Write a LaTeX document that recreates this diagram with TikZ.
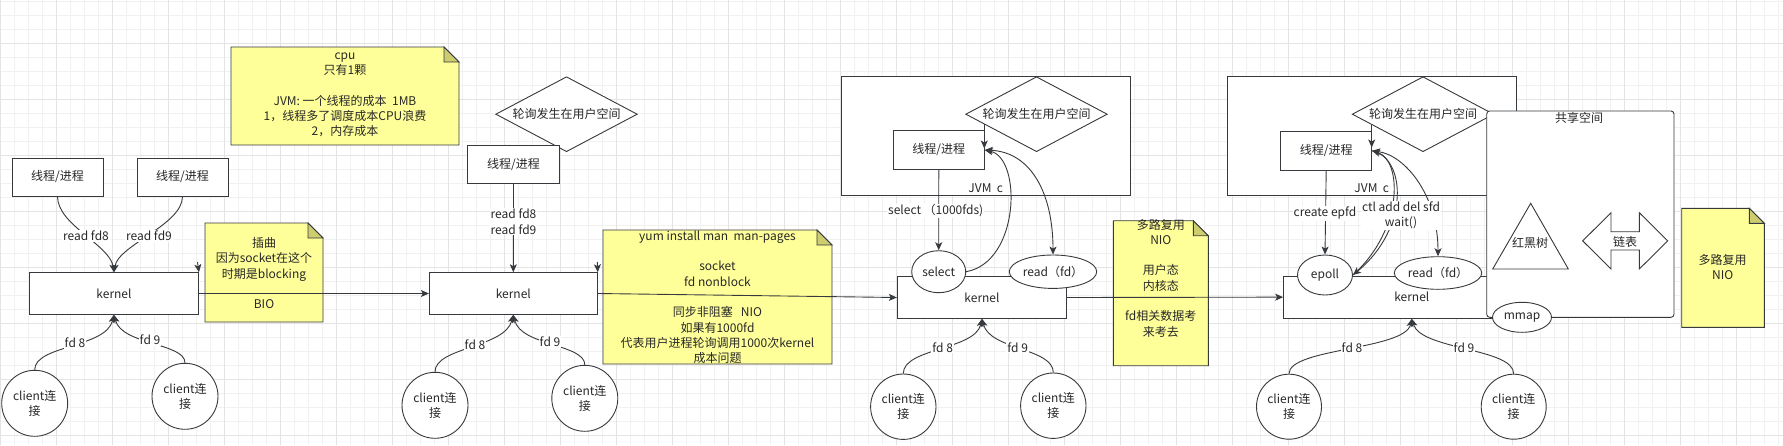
\documentclass[tikz,border=0pt]{standalone}
\usepackage{fontspec}
\setmainfont{Noto Sans CJK SC}
\usetikzlibrary{shapes.geometric,arrows.meta}
\definecolor{gridminor}{RGB}{241,241,241}
\definecolor{gridmajor}{RGB}{228,228,228}
\definecolor{notey}{RGB}{255,255,153}
\definecolor{notefold}{RGB}{205,205,112}
\definecolor{ink}{RGB}{54,57,61}
\definecolor{txt}{RGB}{40,40,40}
\newcommand\foldnote[5]{%
  \filldraw[fill=notey,draw=ink,line width=0.9pt] (#2,#3) -- ({#4-15},#3) -- (#4,{#3+15}) -- (#4,#5) -- (#2,#5) -- cycle;
  \filldraw[fill=notefold,draw=ink,line width=0.9pt] ({#4-15},#3) -- ({#4-15},{#3+15}) -- (#4,{#3+15}) -- cycle;
  \coordinate (#1) at ({(#2+#4)/2},{(#3+#5)/2});
}
\begin{document}
\begin{tikzpicture}[x=1pt,y=-1pt,
  every node/.style={font=\fontsize{12}{15.3}\selectfont, text=txt},
  box/.style={rectangle, draw=ink, fill=white, inner sep=0pt, line width=0.9pt},
  ell/.style={ellipse, draw=ink, fill=white, inner sep=0pt, line width=0.9pt},
  circ/.style={circle, draw=ink, fill=white, inner sep=0pt, minimum size=66pt, align=center, line width=0.9pt},
  dia/.style={diamond, aspect=1.9, draw=ink, fill=white, inner sep=0pt, minimum width=141.6pt, minimum height=75pt, line width=0.9pt},
  conn/.style={draw=ink, line width=0.9pt, -{Stealth[length=8pt,width=7pt,inset=2pt]}},
  biconn/.style={draw=ink, line width=0.9pt, {Stealth[length=8pt,width=7pt,inset=2pt]}-{Stealth[length=8pt,width=7pt,inset=2pt]}},
  lbl/.style={fill=white, inner sep=1pt, align=center},
  notetext/.style={align=center, inner sep=0pt}
]
\useasboundingbox (0,0) rectangle (1783,445);
\fill[white] (0,0) rectangle (1783,445);
% grid
\foreach \i in {0,...,127} \draw[gridminor, line width=0.8pt] ({0.7+14*\i},0) -- ({0.7+14*\i},445);
\foreach \i in {0,...,31} \draw[gridminor, line width=0.8pt] (0,{1+14*\i}) -- (1783,{1+14*\i});
\foreach \i in {0,...,31} \draw[gridmajor, line width=0.8pt] ({0.7+56*\i},0) -- ({0.7+56*\i},445);
\foreach \i in {0,...,7} \draw[gridmajor, line width=0.8pt] (0,{43+56*\i}) -- (1783,{43+56*\i});

% notes
\foldnote{n1}{231}{47}{459}{145}
\foldnote{n2}{205}{223}{323}{322}
\foldnote{n3}{603}{230}{832}{364}
\foldnote{n4}{1113.3}{220.7}{1208.3}{365.7}
\foldnote{n5}{1681.7}{208.3}{1764.3}{327.3}
\node[notetext] (n1t) at (345,95) {cpu\\只有1颗\\[15.3pt]JVM: 一个线程的成本~~1MB\\1，线程多了调度成本CPU浪费\\2，内存成本};
\node[notetext] (n2t) at (264,273.2) {插曲\\因为socket在这个\\时期是blocking\\[15.3pt]BIO};
\node[notetext] (n3t) at (717.5,297.3) {yum install man~~man-pages\\[15.3pt]socket\\fd nonblock\\[15.3pt]同步非阻塞~~~NIO\\如果有1000fd\\代表用户进程轮询调用1000次kernel\\成本问题};
\node[notetext] (n4t) at (1160.8,278) {多路复用\\NIO\\[15.3pt]用户态\\内核态\\[15.3pt]fd相关数据考\\来考去};
\node[notetext] (n5t) at (1722.7,267.3) {多路复用\\NIO};

% panel 1
\node[box, minimum width=91pt, minimum height=38pt] (t1a) at (57.5,177) {线程/进程};
\node[box, minimum width=91pt, minimum height=38pt] (t1b) at (182.5,177) {线程/进程};
\node[box, minimum width=169pt, minimum height=41.6pt] (k1) at (114,293.5) {kernel};
\node[circ] (c1a) at (34.7,403.3) {client连\\接};
\node[circ] (c1b) at (185,396.3) {client连\\接};

% panel 2
\node[dia] (d2) at (566.5,114.2) {轮询发生在用户空间};
\node[box, minimum width=91.6pt, minimum height=38.3pt] (t2) at (513.5,164.2) {线程/进程};
\node[box, minimum width=168pt, minimum height=41.6pt] (k2) at (513.3,293.5) {kernel};
\node[circ] (c2a) at (435,405.3) {client连\\接};
\node[circ] (c2b) at (584.8,398.3) {client连\\接};

% panel 3
\node[box, minimum width=289pt, minimum height=119pt] (j3) at (986.2,135.5) {};
\node (j3l) at (985.7,187.7) {JVM~~c};
\node[dia] (d3) at (1036.5,114.2) {轮询发生在用户空间};
\node[box, minimum width=91pt, minimum height=38.6pt] (t3) at (938.8,150) {线程/进程};
\node[box, minimum width=169.4pt, minimum height=41.6pt] (k3) at (982,297.5) {kernel};
\node[ell, minimum width=54pt, minimum height=42pt] (sel) at (938.7,271.7) {select};
\node[ell, minimum width=87.4pt, minimum height=33.4pt] (rd3) at (1053,271.7) {read（fd）};
\node[circ, minimum size=65.4pt] (c3a) at (903.3,406.7) {client连\\接};
\node[circ, minimum size=65.4pt] (c3b) at (1053.3,405.7) {client连\\接};

% panel 4
\node[box, minimum width=288.7pt, minimum height=119pt] (j4) at (1371.65,135.5) {};
\node (j4l) at (1371.7,187.7) {JVM~~c};
\node[dia] (d4) at (1423,114.2) {轮询发生在用户空间};
\node[box, minimum width=91pt, minimum height=38.3pt] (t4) at (1326.2,150.8) {线程/进程};
\node[box, minimum width=256.4pt, minimum height=42.3pt] (k4) at (1411.8,297.15) {kernel};
\node[ell, minimum width=55pt, minimum height=40pt] (ep) at (1325,275) {epoll};
\node[ell, minimum width=87.4pt, minimum height=32.6pt] (rd4) at (1438,273) {read（fd）};
\node[circ, minimum size=65pt] (c4a) at (1289,406.7) {client连\\接};
\node[circ, minimum size=65pt] (c4b) at (1513.7,406.7) {client连\\接};

% shared space
\node[box, rounded corners=3pt, minimum width=187.3pt, minimum height=206.3pt] (sh) at (1580.35,214.15) {};
\node (shl) at (1579,118.3) {共享空间};
\draw[draw=ink, fill=white, line width=0.9pt] (1530.7,203.3) -- (1568.3,269) -- (1492.7,269) -- cycle;
\node (rbt) at (1530,243.3) {红黑树};
\draw[draw=ink, fill=white, line width=0.9pt] (1582.7,240.85) -- (1611,212.7) -- (1611,231.7) -- (1639.3,231.7) -- (1639.3,212.7) -- (1667.7,240.85) -- (1639.3,269) -- (1639.3,250) -- (1611,250) -- (1611,269) -- cycle;
\node (lst) at (1625,242.3) {链表};
\node[ell, minimum width=59pt, minimum height=30pt] (mm) at (1522,317.3) {mmap};

% connectors panel 1
\draw[conn] (t1a.south) .. controls (57.5,225) and (110,245) .. (k1.north);
\draw[conn] (t1b.south) .. controls (182.5,225) and (118,245) .. (k1.north);
\node[lbl] (l1a) at (86,236) {read fd8};
\node[lbl] (l1b) at (149,236) {read fd9};
\draw[conn] (c1a.north) .. controls (34.7,345) and (106,348) .. (k1.south);
\draw[conn] (c1b.north) .. controls (185,343) and (122,345) .. (k1.south);
\node[lbl] (f1a) at (75,343) {fd 8};
\node[lbl] (f1b) at (150,340) {fd 9};
\coordinate (a1s) at (197.5,262);
\draw[conn] (a1s) -- (k1.north east);
\draw[conn] (k1.east) -- (k2.west);

% connectors panel 2
\draw[conn] (t2.south) -- (k2.north);
\node[lbl] (l2) at (513.5,221.8) {read fd8\\read fd9};
\draw[conn] (c2a.north) .. controls (435,347) and (505,348) .. (k2.south);
\draw[conn] (c2b.north) .. controls (584.8,344) and (521,346) .. (k2.south);
\node[lbl] (f2a) at (475,344.3) {fd 8};
\node[lbl] (f2b) at (550,341.7) {fd 9};
\coordinate (a2s) at (597.3,262);
\draw[conn] (a2s) -- (k2.north east);
\draw[conn] (k2.east) -- (k3.west);

% connectors panel 3
\coordinate (a3s) at (984.3,124);
\coordinate (a3e) at (984.3,148.5);
\draw[conn] (a3s) -- (a3e);
\draw[conn] (t3.south) -- (sel.north);
\node[lbl] (l3) at (935.7,211) {select （1000fds)};
\draw[conn] (sel.east) .. controls (1020,262) and (1022,158) .. (t3.east);
\draw[biconn] (t3.east) .. controls (1032,152) and (1053,195) .. (rd3.north);
\draw[conn] (c3a.north) .. controls (903.3,348) and (975,350) .. (k3.south);
\draw[conn] (c3b.north) .. controls (1053.3,348) and (990,350) .. (k3.south);
\node[lbl] (f3a) at (942.7,347.3) {fd 8};
\node[lbl] (f3b) at (1017.7,347.3) {fd 9};
\draw[conn] (k3.east) -- (k4.west);

% connectors panel 4
\coordinate (a4s) at (1371.7,124.5);
\coordinate (a4e) at (1371.7,147.5);
\draw[conn] (a4s) -- (a4e);
\draw[conn] (t4.south) -- (ep.north);
\node[lbl] (l4a) at (1325,213.3) {create epfd};
\draw[conn] (t4.east) .. controls (1406,158) and (1410,228) .. (ep.east);
\draw[conn] (ep.east) .. controls (1404,229) and (1402,160) .. (t4.east);
\draw[biconn] (t4.east) .. controls (1405,155) and (1438,195) .. (rd4.north);
\node[lbl] (l4b) at (1401,215.5) {ctl add del sfd\\wait()};
\draw[conn] (c4a.north) .. controls (1289,348) and (1405,350) .. (k4.south);
\draw[conn] (c4b.north) .. controls (1513.7,348) and (1421,350) .. (k4.south);
\node[lbl] (f4a) at (1352,347.3) {fd 8};
\node[lbl] (f4b) at (1464,347.3) {fd 9};
\end{tikzpicture}
\end{document}
